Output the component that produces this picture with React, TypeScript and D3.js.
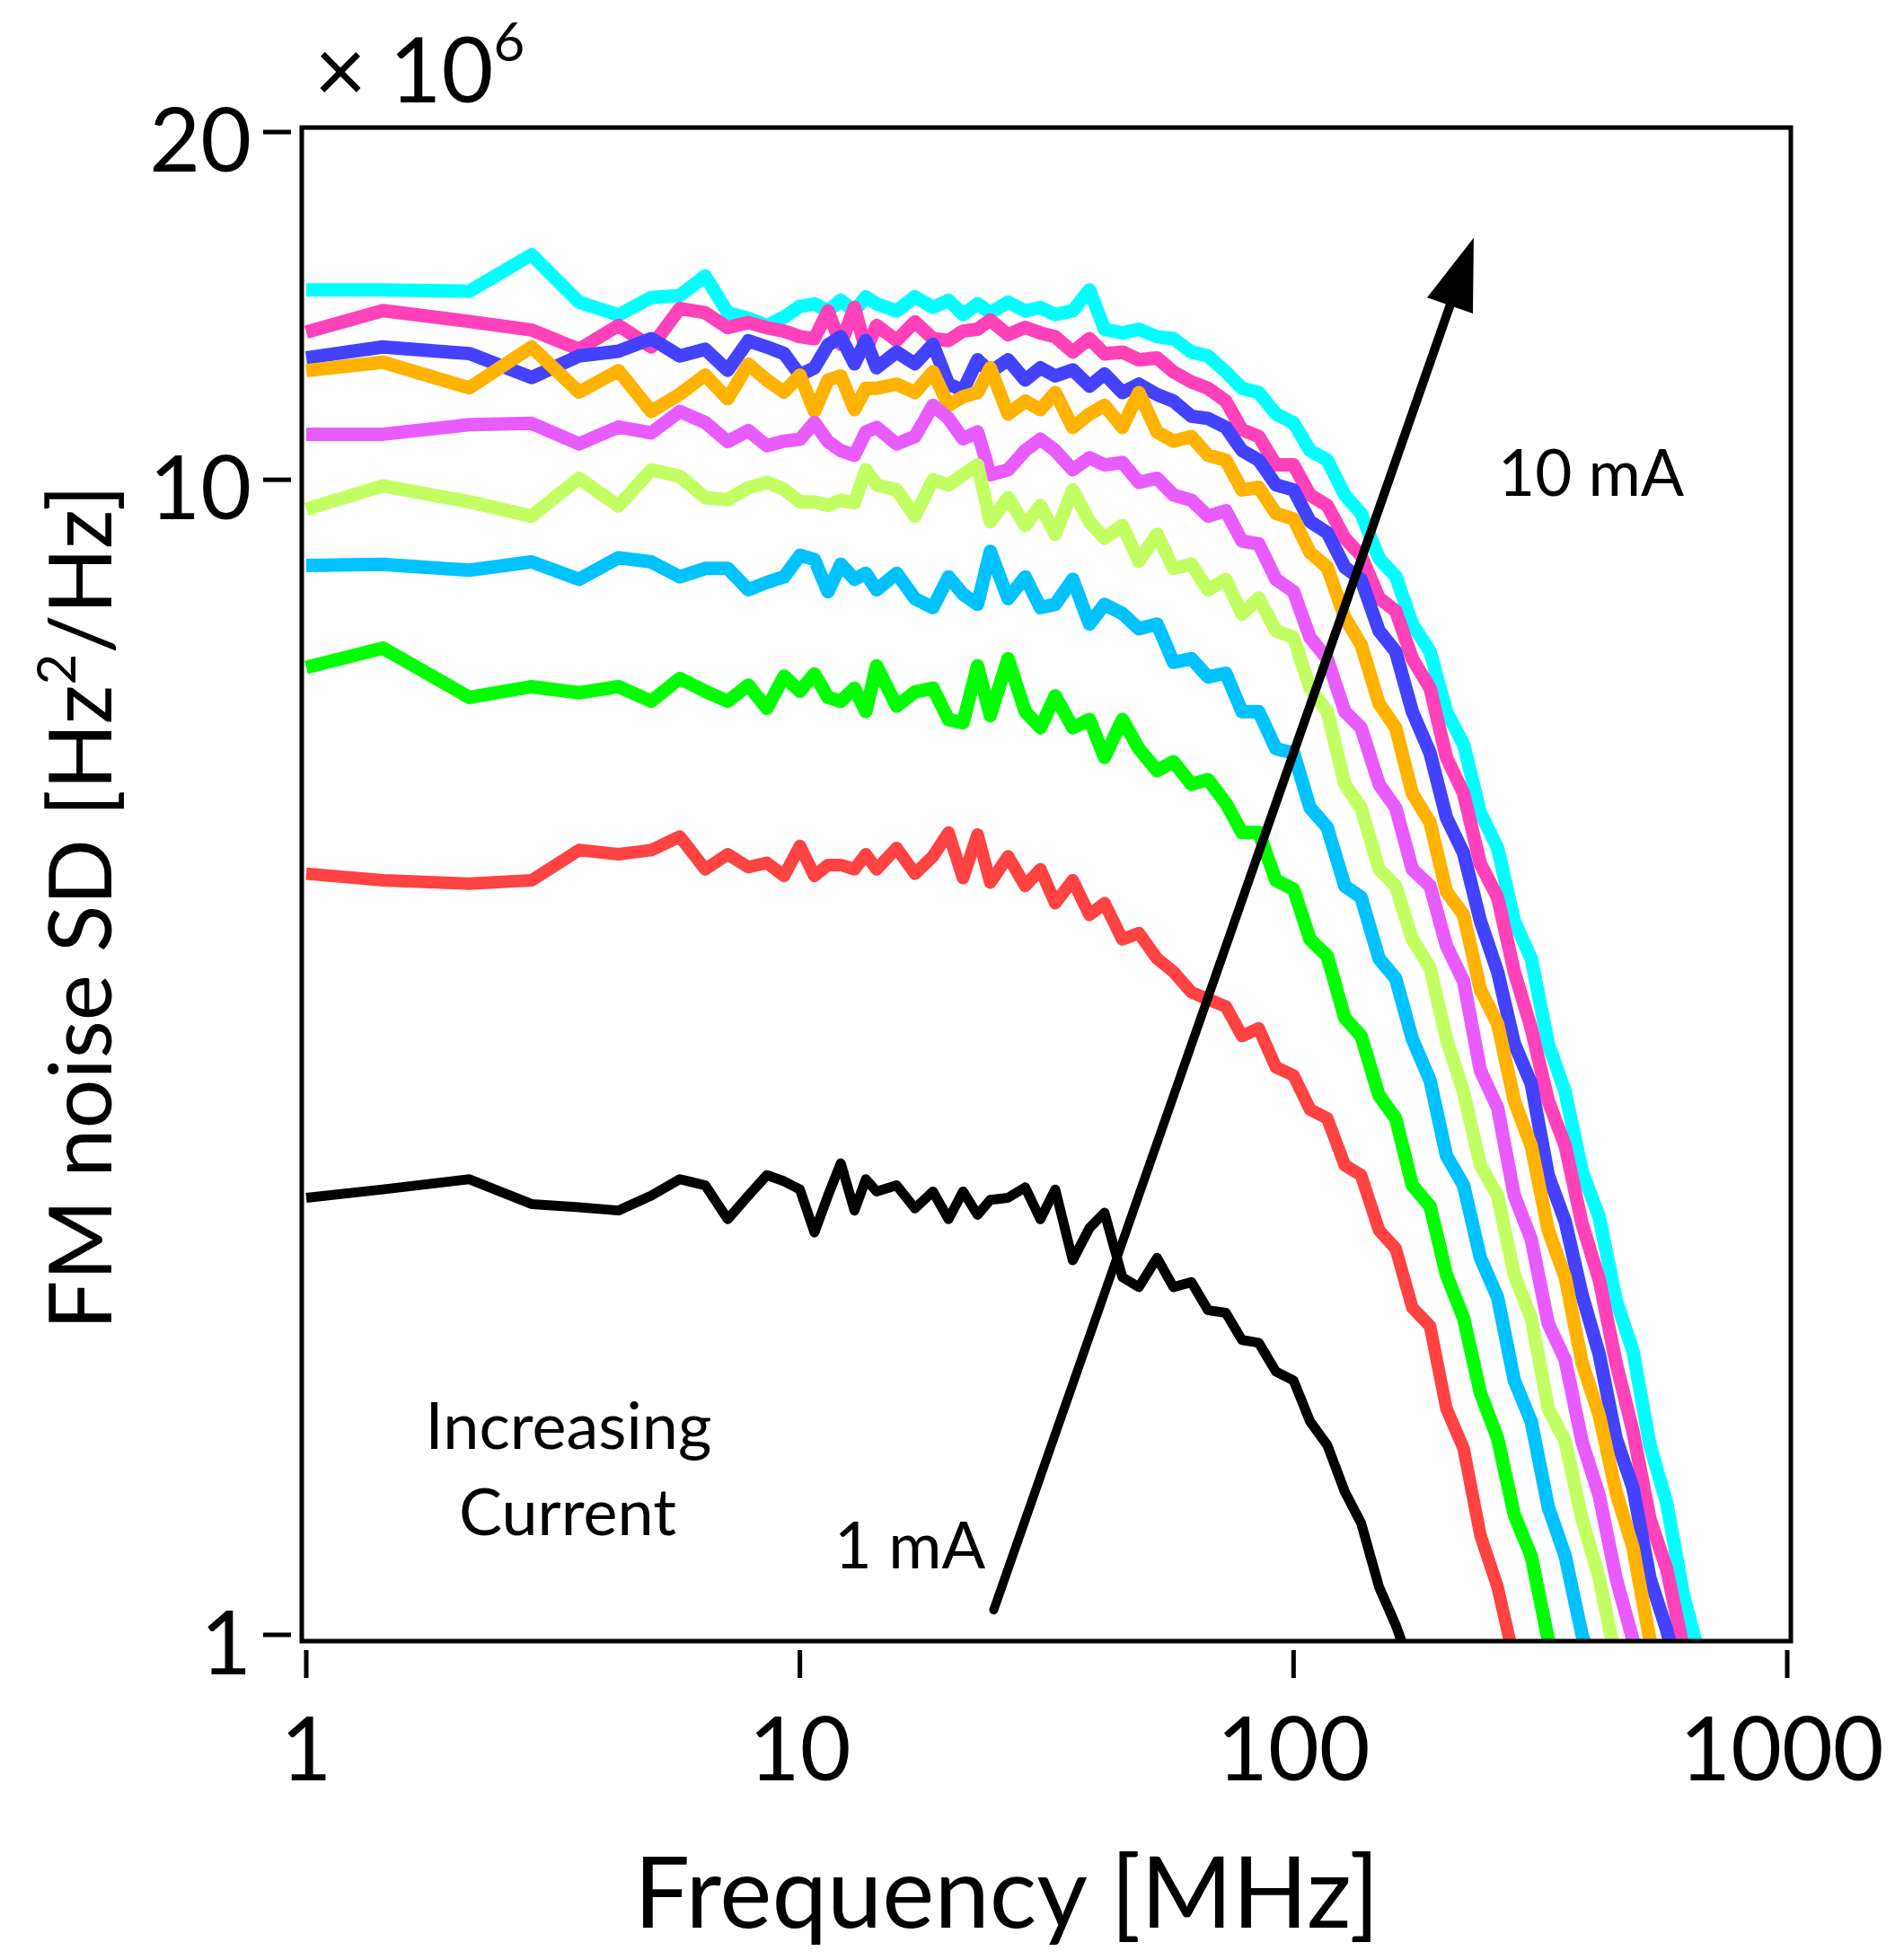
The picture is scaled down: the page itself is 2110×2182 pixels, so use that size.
import React from "react";
import * as d3 from "d3";

// Shared frequency grid [MHz]
const freqs = [
  1, 1.43, 2.14, 2.86, 3.57, 4.29, 5, 5.71, 6.43, 7.14, 7.86, 8.57, 9.29, 10, 10.7, 11.4, 12.1, 12.9, 13.6, 14.3,
  15.7, 17.1, 18.6, 20, 21.4, 22.9, 24.3, 26.4, 28.6, 30.7,
  32.9, 35.7, 38.6, 41.4, 45, 48.6, 52.9, 57.1, 62.1, 67.1,
  72.9, 78.6, 85, 92.1, 100, 108, 117, 127, 137, 149,
  161, 174, 189, 204, 221, 239, 259, 280, 303, 328,
  355, 384, 416, 450, 487, 527, 570, 617, 668,
];

// FM noise SD values [x 10^6 Hz^2/Hz], one array per bias current
const i10mA = [
  14.6, 14.6, 14.56, 15.66, 14.25, 13.89, 14.38, 14.44, 15.01, 13.95, 13.8, 13.6, 13.83, 14.13, 14.2, 14.0,
  14.3, 14.0, 14.4, 14.2,
  14.0, 14.4, 14.1, 14.3, 13.9, 14.2, 13.95, 14.25, 14.0, 14.1,
  13.9, 14.0, 14.6, 13.5, 13.4, 13.5, 13.3, 13.25, 12.9, 12.8,
  12.4, 12.0, 11.9, 11.4, 11.2, 10.6, 10.4, 9.7, 9.35, 8.55,
  8.25, 7.5, 7.1, 6.3, 5.9, 5.15, 4.8, 4.15, 3.85, 3.25,
  2.95, 2.52, 2.3, 1.95, 1.76, 1.46, 1.3, 1.08, 0.95,
];
const i9mA = [
  13.42, 14.01, 13.71, 13.48, 12.97, 13.6, 13.03, 14.07, 13.95, 13.54, 13.68, 13.54, 13.45, 13.3, 13.25, 14.0,
  13.1, 14.1, 12.95, 13.6,
  13.2, 13.7, 13.25, 13.2, 13.45, 13.5, 13.75, 13.35, 13.55, 13.4,
  13.3, 12.9, 13.25, 12.85, 12.9, 12.7, 12.75, 12.4, 12.15, 12.0,
  11.7, 11.05, 10.9, 10.3, 10.3, 9.7, 9.5, 8.9, 8.6, 7.9,
  7.7, 7.0, 6.6, 5.75, 5.35, 4.65, 4.35, 3.75, 3.35, 2.9,
  2.65, 2.27, 2.03, 1.72, 1.5, 1.26, 1.14, 0.97, 0.85,
];
const i8mA = [
  12.75, 13.03, 12.86, 12.26, 12.8, 12.92, 13.25, 12.8, 12.97, 12.44, 13.19, 13.03, 12.86, 12.32, 12.5, 13.08,
  13.3, 12.6, 13.2, 12.5,
  12.9, 12.6, 13.1, 12.1, 11.95, 12.7, 12.4, 12.7, 12.2, 12.5,
  12.3, 12.45, 12.05, 12.35, 11.9, 12.1, 11.85, 11.7, 11.35, 11.3,
  11.1, 10.6, 10.4, 9.9, 9.8, 9.2, 9.0, 8.4, 8.2, 7.4,
  7.1, 6.3, 5.8, 5.1, 4.75, 4.15, 3.75, 3.25, 3.0, 2.5,
  2.28, 1.97, 1.75, 1.48, 1.34, 1.12, 1.01, 0.88,
];
const i7mA = [
  12.43, 12.64, 12.01, 13.03, 11.91, 12.43, 11.46, 11.86, 12.32, 11.75, 12.59, 12.2, 11.91, 12.32, 11.46, 12.2,
  12.3, 11.5, 12.0, 12.0,
  12.1, 11.9, 12.4, 11.6, 11.8, 11.9, 12.5, 11.4, 11.7, 11.5,
  11.9, 11.1, 11.4, 11.6, 11.1, 11.9, 11.0, 10.8, 10.9, 10.5,
  10.4, 9.8, 9.85, 9.35, 9.25, 8.65, 8.4, 7.6, 7.2, 6.4,
  6.1, 5.35, 5.05, 4.4, 4.2, 3.62, 3.38, 2.9, 2.65, 2.24,
  2.04, 1.72, 1.55, 1.33, 1.19, 0.99, 0.88,
];
const i6mA = [
  10.95, 10.95, 11.16, 11.19, 10.74, 11.11, 10.98, 11.46, 11.21, 10.79, 11.03, 10.7, 10.8, 10.84, 11.21, 10.79,
  10.6, 10.5, 11.0, 11.1,
  10.74, 10.9, 11.6, 11.3, 10.85, 11.0, 10.1, 10.2, 10.6, 10.84,
  10.6, 10.2, 10.45, 10.3, 10.35, 9.95, 10.03, 9.7, 9.6, 9.3,
  9.4, 8.85, 8.8, 8.2, 8.0, 7.3, 7.0, 6.3, 6.1, 5.45,
  5.2, 4.6, 4.45, 3.95, 3.68, 3.08, 2.86, 2.4, 2.2, 1.86,
  1.73, 1.47, 1.32, 1.12, 0.99, 0.86,
];
const i5mA = [
  9.43, 9.88, 9.57, 9.3, 10.03, 9.49, 10.2, 10.07, 9.65, 9.61, 9.84, 9.95, 9.81, 9.57, 9.57, 9.5,
  9.6, 9.55, 10.2, 9.9,
  9.8, 9.3, 10.0, 9.9, 10.1, 10.3, 9.2, 9.65, 9.13, 9.5,
  8.97, 9.8, 9.2, 8.9, 9.13, 8.5, 8.97, 8.38, 8.45, 8.03,
  8.2, 7.65, 7.9, 7.4, 7.3, 6.6, 6.3, 5.45, 5.2, 4.6,
  4.45, 4.0, 3.78, 3.28, 2.95, 2.55, 2.4, 2.05, 1.88, 1.57,
  1.47, 1.26, 1.12, 0.95,
];
const i4mA = [
  8.43, 8.45, 8.35, 8.49, 8.2, 8.56, 8.49, 8.24, 8.38, 8.38, 8.03, 8.15, 8.24, 8.6, 8.53, 8.0,
  8.45, 8.2, 8.3, 8.03,
  8.3, 7.89, 7.75, 8.24, 7.96, 7.8, 8.67, 7.89, 8.24, 7.75,
  7.8, 8.2, 7.5, 7.8, 7.66, 7.43, 7.5, 6.95, 7.0, 6.75,
  6.8, 6.3, 6.3, 5.85, 5.8, 5.2, 5.0, 4.45, 4.35, 3.85,
  3.7, 3.28, 3.02, 2.6, 2.45, 2.12, 1.96, 1.66, 1.53, 1.29,
  1.17, 1.0, 0.9,
];
const i3mA = [
  6.88, 7.15, 6.48, 6.62, 6.54, 6.62, 6.43, 6.73, 6.56, 6.43, 6.64, 6.34, 6.76, 6.56, 6.79, 6.48,
  6.43, 6.6, 6.3, 6.9,
  6.37, 6.55, 6.6, 6.2, 6.16, 6.9, 6.25, 7.0, 6.3, 6.1,
  6.5, 6.1, 6.2, 5.75, 6.2, 5.85, 5.6, 5.7, 5.45, 5.5,
  5.25, 4.95, 4.95, 4.5, 4.42, 4.0, 3.87, 3.42, 3.3, 2.93,
  2.8, 2.45, 2.35, 2.05, 1.88, 1.62, 1.48, 1.27, 1.17, 0.99,
  0.88,
];
const i2mA = [
  4.56, 4.5, 4.47, 4.5, 4.78, 4.74, 4.78, 4.91, 4.6, 4.74, 4.62, 4.66, 4.54, 4.82, 4.54, 4.64,
  4.64, 4.6, 4.74, 4.6,
  4.8, 4.56, 4.72, 4.95, 4.52, 4.93, 4.48, 4.72, 4.45, 4.6,
  4.3, 4.5, 4.2, 4.3, 4.0, 4.05, 3.85, 3.75, 3.6, 3.55,
  3.5, 3.3, 3.35, 3.1, 3.05, 2.85, 2.8, 2.55, 2.5, 2.24,
  2.16, 1.92, 1.85, 1.57, 1.45, 1.22, 1.1, 0.95,
];
const i1mA = [
  2.39, 2.43, 2.48, 2.36, 2.345, 2.33, 2.4, 2.48, 2.45, 2.29, 2.4, 2.5, 2.47, 2.43, 2.23, 2.4,
  2.56, 2.33, 2.48, 2.42,
  2.45, 2.34, 2.42, 2.29, 2.42, 2.31, 2.38, 2.39, 2.44, 2.29,
  2.43, 2.11, 2.25, 2.32, 2.04, 2.0, 2.12, 2.0, 2.02, 1.91,
  1.9, 1.8, 1.79, 1.69, 1.66, 1.53, 1.46, 1.33, 1.25, 1.1,
  1.02, 0.93,
];

// drawn from highest current to lowest (lowest on top)
const seriesList = [
  { label: "10 mA", color: "#00FFFF", values: i10mA, width: 15 },
  { label: "9 mA", color: "#FF42BA", values: i9mA, width: 15 },
  { label: "8 mA", color: "#4242FF", values: i8mA, width: 15 },
  { label: "7 mA", color: "#FFB200", values: i7mA, width: 15 },
  { label: "6 mA", color: "#E85CFF", values: i6mA, width: 15 },
  { label: "5 mA", color: "#C2FF62", values: i5mA, width: 15 },
  { label: "4 mA", color: "#00C2FF", values: i4mA, width: 15 },
  { label: "3 mA", color: "#00FF00", values: i3mA, width: 15 },
  { label: "2 mA", color: "#FF4242", values: i2mA, width: 14 },
  { label: "1 mA", color: "#000000", values: i1mA, width: 11 },
];

const xTicks = [1, 10, 100, 1000];
const yTicks = [1, 10, 20];

// arrow annotation in data coordinates [MHz, value]
const arrowTail = [24.7, 1.051];
const arrowTip = [231.7, 16.2];

const FONT = "Lato, 'Open Sans', 'DejaVu Sans', sans-serif";

export default function App() {
  const W = 2110;
  const H = 2182;
  const x = d3.scaleLog().domain([1, 1000]).range([341, 1990]);
  const y = d3.scaleLog().domain([1, 20]).range([1820, 147]);

  const frame = { x0: 336, y0: 142, x1: 1994, y1: 1827 };

  const mkLine = (vals: number[]) =>
    d3
      .line<number>()
      .x((_, i) => x(freqs[i]))
      .y((d) => y(d))(vals) as string;

  // arrow geometry
  const tx = x(arrowTail[0]);
  const ty = y(arrowTail[1]);
  const hx = x(arrowTip[0]);
  const hy = y(arrowTip[1]);
  const len = Math.hypot(hx - tx, hy - ty);
  const ux = (hx - tx) / len;
  const uy = (hy - ty) / len;
  const headLen = 80;
  const headHalf = 27;
  const bx = hx - ux * headLen;
  const by = hy - uy * headLen;
  const px = -uy;
  const py = ux;
  const headPts = `${hx},${hy} ${bx + px * headHalf},${by + py * headHalf} ${bx - px * headHalf},${by - py * headHalf}`;

  return (
    <div>
      <svg
        width={W}
        height={H}
        viewBox={`0 0 ${W} ${H}`}
        style={{ position: "absolute", left: 0, top: 0, background: "#fff" }}
        fontFamily={FONT}
      >
        <rect x={0} y={0} width={W} height={H} fill="#fff" />
        <defs>
          <clipPath id="plotClip">
            <rect x={frame.x0} y={frame.y0} width={frame.x1 - frame.x0} height={frame.y1 - frame.y0} />
          </clipPath>
        </defs>

        <g clipPath="url(#plotClip)">
          {seriesList.map((s) => (
            <path
              key={s.label}
              d={mkLine(s.values)}
              fill="none"
              stroke={s.color}
              strokeWidth={s.width}
              strokeLinejoin="round"
              strokeLinecap="butt"
            />
          ))}
        </g>

        {/* arrow */}
        <line x1={tx} y1={ty} x2={bx + ux * 4} y2={by + uy * 4} stroke="#000" strokeWidth={10} strokeLinecap="round" />
        <polygon points={headPts} fill="#000" />

        {/* frame */}
        <rect
          x={frame.x0}
          y={frame.y0}
          width={frame.x1 - frame.x0}
          height={frame.y1 - frame.y0}
          fill="none"
          stroke="#000"
          strokeWidth={5}
        />

        {/* y axis ticks */}
        {yTicks.map((t) => (
          <g key={"y" + t}>
            <line x1={293} x2={324} y1={y(t)} y2={y(t)} stroke="#000" strokeWidth={5} />
            <text x={280} y={y(t) + 44} textAnchor="end" fontSize={98} fill="#000">
              {t}
            </text>
          </g>
        ))}

        {/* x axis ticks */}
        {xTicks.map((t) => (
          <g key={"x" + t}>
            <line x1={x(t)} x2={x(t)} y1={1837} y2={1868} stroke="#000" strokeWidth={5} />
            <text x={x(t) - (t === 1000 ? 6 : 0)} y={1982} textAnchor="middle" fontSize={98} fill="#000">
              {t}
            </text>
          </g>
        ))}

        {/* multiplier */}
        <text x={350} y={114} fontSize={100} fill="#000">
          × 10
          <tspan fontSize={60} dy={-46}>
            6
          </tspan>
        </text>

        {/* axis titles */}
        <text x={1121} y={2146} textAnchor="middle" fontSize={110} fill="#000">
          Frequency [MHz]
        </text>
        <text transform="translate(124,1010) rotate(-90)" textAnchor="middle" fontSize={97} fill="#000">
          FM noise SD [Hz
          <tspan fontSize={60} dy={-40}>
            2
          </tspan>
          <tspan dy={40}>/Hz]</tspan>
        </text>

        {/* annotations */}
        <text x={1668} y={552} fontSize={71} fill="#000">
          10 mA
        </text>
        <text x={633} y={1613} textAnchor="middle" fontSize={72} fill="#000">
          Increasing
        </text>
        <text x={632} y={1709} textAnchor="middle" fontSize={72} fill="#000">
          Current
        </text>
        <text x={929} y={1746} fontSize={72} fill="#000">
          1 mA
        </text>
      </svg>
    </div>
  );
}
